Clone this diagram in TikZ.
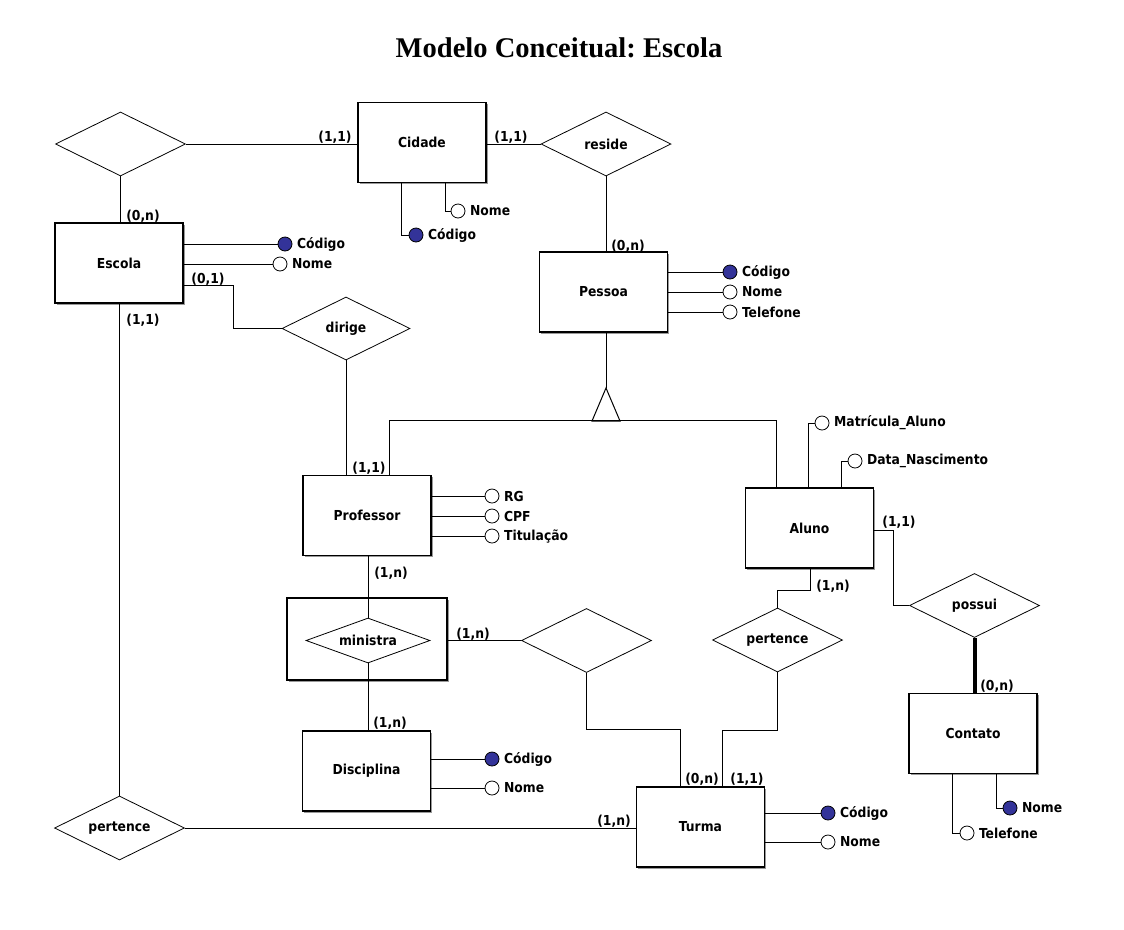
\documentclass[tikz,border=0pt]{standalone}
\usepackage{fontspec}
\usetikzlibrary{shapes.geometric,calc,shadows}
\IfFontExistsTF{DejaVu Sans Condensed}{\newfontfamily\erfont{DejaVu Sans Condensed}}{\newfontfamily\erfont{DejaVu Sans}}
\newfontfamily\titlefont{Liberation Serif}
\definecolor{keyblue}{RGB}{51,51,153}
\frenchspacing
\begin{document}
\begin{tikzpicture}[x=0.75pt,y=-0.75pt,
  font=\erfont\bfseries\fontsize{10.3}{12}\selectfont,
  ent/.style={draw,line width=0.8pt,fill=white,minimum width=96pt,minimum height=60pt,inner sep=0pt,
    drop shadow={shadow xshift=1.2pt,shadow yshift=-1.2pt,opacity=0.4,fill=black}},
  rel/.style={draw,diamond,line width=0.6pt,inner sep=0pt,shape aspect=2.5,minimum width=97.5pt,minimum height=48pt},
  attr/.style={circle,draw,line width=0.6pt,fill=white,minimum size=10.5pt,inner sep=0pt},
  keyattr/.style={attr,fill=keyblue},
  card/.style={inner sep=0pt},
  lnk/.style={line width=0.75pt}]
\useasboundingbox (0,0) rectangle (1124,929);
\node[font=\titlefont\bfseries\fontsize{21.4}{26}\selectfont] (title) at (559,48) {Modelo Conceitual: Escola};

% entities
\node[ent] (cidade) at (422,142.5) {Cidade};
\node[ent] (escola) at (119,263) {Escola};
\node[ent] (pessoa) at (603.5,292) {Pessoa};
\node[ent] (professor) at (367,515.5) {Professor};
\node[ent] (aluno) at (809.5,528) {Aluno};
\node[ent] (disciplina) at (366.5,771) {Disciplina};
\node[ent] (turma) at (700.5,827) {Turma};
\node[ent] (contato) at (973,733.5) {Contato};
\node[ent,minimum width=120pt,minimum height=61.5pt] (mbox) at (367,639) {};

% relationships
\node[rel] (d1) at (120.5,144) {};
\node[rel] (reside) at (606,144) {reside};
\node[rel,minimum height=47.25pt,minimum width=96pt] (dirige) at (346,328.5) {dirige};
\node[rel,minimum width=93pt,minimum height=33.75pt] (ministra) at (368,640.5) {ministra};
\node[rel] (d2) at (586.5,640.5) {};
\node[rel] (pertenceA) at (777.5,640) {pertence};
\node[rel] (possui) at (974.5,605.5) {possui};
\node[rel] (pertenceB) at (119.5,828) {pertence};

% specialization triangle
\coordinate (apex) at (606,388);
\draw[lnk] (apex) -- (592,421) -- (620,421) -- cycle;

% attributes
\node[keyattr,label={[label distance=0pt]right:Código}] (cc) at (416,235) {};
\node[attr,label={[label distance=0pt]right:Nome}] (cn) at (458,211) {};
\node[keyattr,label={[label distance=0pt]right:Código}] (ec) at (285,244) {};
\node[attr,label={[label distance=0pt]right:Nome}] (en) at (280,264) {};
\node[keyattr,label={[label distance=0pt]right:Código}] (pc) at (730,272) {};
\node[attr,label={[label distance=0pt]right:Nome}] (pn) at (730,292) {};
\node[attr,label={[label distance=0pt]right:Telefone}] (pt) at (730,312) {};
\node[attr,label={[label distance=0pt]right:RG}] (rg) at (492,496) {};
\node[attr,label={[label distance=0pt]right:CPF}] (cpf) at (492,516) {};
\node[attr,label={[label distance=0pt]right:Titulação}] (tit) at (492,536) {};
\node[attr,label={[label distance=0pt]right:Matrícula\_Aluno}] (am) at (822,423) {};
\node[attr,label={[label distance=0pt]right:Data\_Nascimento}] (ad) at (855,461) {};
\node[keyattr,label={[label distance=0pt]right:Código}] (dc) at (492,759) {};
\node[attr,label={[label distance=0pt]right:Nome}] (dn) at (492,788) {};
\node[keyattr,label={[label distance=0pt]right:Código}] (tc) at (828,813) {};
\node[attr,label={[label distance=0pt]right:Nome}] (tn) at (828,842) {};
\node[keyattr,label={[label distance=0pt]right:Nome}] (kn) at (1010,808) {};
\node[attr,label={[label distance=0pt]right:Telefone}] (kt) at (967,833) {};

% attribute links
\draw[lnk] ($(cidade.south west)+(44,0)$) |- (cc.west);
\draw[lnk] ($(cidade.south west)+(88,0)$) |- (cn.west);
\draw[lnk] (escola.east |- ec) -- (ec.west);
\draw[lnk] (escola.east |- en) -- (en.west);
\draw[lnk] (pessoa.east |- pc) -- (pc.west);
\draw[lnk] (pessoa.east |- pn) -- (pn.west);
\draw[lnk] (pessoa.east |- pt) -- (pt.west);
\draw[lnk] (professor.east |- rg) -- (rg.west);
\draw[lnk] (professor.east |- cpf) -- (cpf.west);
\draw[lnk] (professor.east |- tit) -- (tit.west);
\draw[lnk] ($(aluno.north west)+(64,0)$) |- (am.west);
\draw[lnk] ($(aluno.north west)+(97,0)$) |- (ad.west);
\draw[lnk] (disciplina.east |- dc) -- (dc.west);
\draw[lnk] (disciplina.east |- dn) -- (dn.west);
\draw[lnk] (turma.east |- tc) -- (tc.west);
\draw[lnk] (turma.east |- tn) -- (tn.west);
\draw[lnk] ($(contato.south west)+(88,0)$) |- (kn.west);
\draw[lnk] ($(contato.south west)+(44,0)$) |- (kt.west);

% relationship links
\draw[lnk] (d1.east) -- (d1.east -| cidade.west);
\draw[lnk] (d1.south) -- (d1.south |- escola.north);
\draw[lnk] (cidade.east |- reside.west) -- (reside.west);
\draw[lnk] (reside.south) -- (reside.south |- pessoa.north);
\draw[lnk] (pertenceB.north |- escola.south) -- (pertenceB.north);
\draw[lnk] (pertenceB.east) -- (pertenceB.east -| turma.west);
\draw[lnk] ($(escola.north east)+(0,63)$) -- ++(50,0) |- (dirige.west);
\draw[lnk] (dirige.south) -- (dirige.south |- professor.north);
\draw[lnk] (apex |- pessoa.south) -- (apex);
\draw[lnk] ($(professor.north west)+(87,0)$) |- ($(aluno.north west)+(32,-67)$) -- ($(aluno.north west)+(32,0)$);
\draw[lnk] (ministra.north |- professor.south) -- (ministra.north);
\draw[lnk] (ministra.south) -- (ministra.south |- disciplina.north);
\draw[lnk] (mbox.east |- d2.west) -- (d2.west);
\draw[lnk] (d2.south) -- ++(0,57) -| ($(turma.north west)+(45,0)$);
\draw[lnk] (pertenceA.south) -- ++(0,58) -| ($(turma.north west)+(87,0)$);
\draw[lnk] (pertenceA.north) -- ++(0,-17) -| ($(aluno.south west)+(66,0)$);
\draw[lnk] ($(aluno.north east)+(0,43)$) -- ++(19,0) |- (possui.west);
\draw[line width=3pt] (possui.south) -- (possui.south |- contato.north);

% cardinalities
\node[card] (k1) at (335,137) {(1,1)};
\node[card] (k2) at (143,216) {(0,n)};
\node[card] (k3) at (511,137) {(1,1)};
\node[card] (k4) at (628,246) {(0,n)};
\node[card] (k5) at (208,279) {(0,1)};
\node[card] (k6) at (143,320) {(1,1)};
\node[card] (k7) at (369,468) {(1,1)};
\node[card] (k8) at (391,573) {(1,n)};
\node[card] (k9) at (473,634) {(1,n)};
\node[card] (k10) at (390,723) {(1,n)};
\node[card] (k11) at (833,586) {(1,n)};
\node[card] (k12) at (899,522) {(1,1)};
\node[card] (k13) at (997,686) {(0,n)};
\node[card] (k14) at (702,779) {(0,n)};
\node[card] (k15) at (747,779) {(1,1)};
\node[card] (k16) at (614,821) {(1,n)};
\end{tikzpicture}
\end{document}
